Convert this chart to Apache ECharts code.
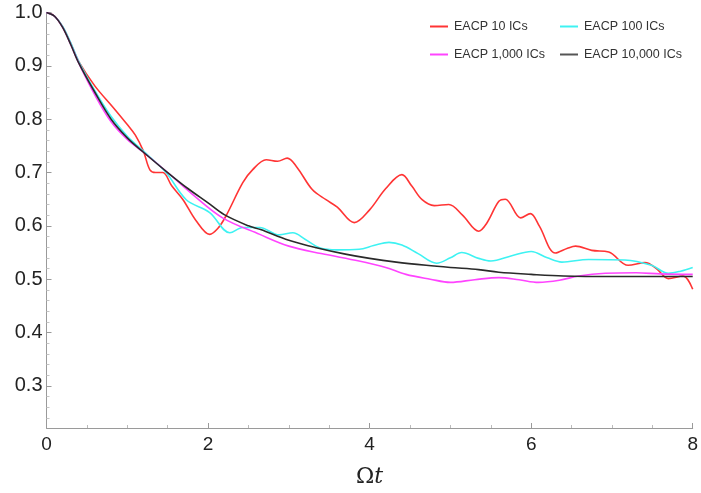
<!DOCTYPE html>
<html>
<head>
<meta charset="utf-8">
<script src="https://cdn.jsdelivr.net/npm/echarts@6/dist/echarts.min.js"></script>
<style>html,body{margin:0;padding:0;background:#fff}#c{width:701px;height:493px}</style>
</head>
<body>
<div id="c"></div>
<script>
// ---- data ----
var seriesNames = ['EACP 10 ICs', 'EACP 100 ICs', 'EACP 1,000 ICs', 'EACP 10,000 ICs'];
var xTickLabels = [0, 2, 4, 6, 8];
var yTickLabels = [0.3, 0.4, 0.5, 0.6, 0.7, 0.8, 0.9, 1.0];

var redX = [0, 0.1, 0.2, 0.3, 0.4, 0.6, 0.82, 1.0, 1.1, 1.2, 1.28, 1.35, 1.44, 1.55, 1.69, 1.85, 2.02, 2.12, 2.22, 2.43, 2.55, 2.72, 2.86, 2.98, 3.1, 3.29, 3.46, 3.6, 3.81, 4.0, 4.2, 4.4, 4.52, 4.65, 4.8, 4.98, 5.15, 5.35, 5.45, 5.6, 5.68, 5.87, 5.99, 6.1, 6.3, 6.45, 6.55, 6.75, 6.96, 7.2, 7.41, 7.55, 7.7, 7.88, 8.0];
var redY = [1.0, 0.993, 0.973, 0.942, 0.908, 0.862, 0.823, 0.79, 0.77, 0.74, 0.705, 0.700, 0.700, 0.675, 0.649, 0.61, 0.584, 0.595, 0.618, 0.681, 0.705, 0.724, 0.721, 0.727, 0.71, 0.668, 0.649, 0.635, 0.606, 0.63, 0.67, 0.696, 0.675, 0.649, 0.638, 0.640, 0.62, 0.590, 0.605, 0.646, 0.650, 0.615, 0.623, 0.60, 0.549, 0.558, 0.562, 0.554, 0.551, 0.526, 0.531, 0.52, 0.501, 0.506, 0.481];

var cyanX = [0, 0.1, 0.2, 0.3, 0.4, 0.6, 0.8, 1.0, 1.2, 1.48, 1.73, 2.02, 2.27, 2.43, 2.64, 2.88, 3.05, 3.2, 3.38, 3.6, 3.87, 4.05, 4.24, 4.4, 4.6, 4.83, 5.0, 5.14, 5.35, 5.5, 5.76, 6.0, 6.2, 6.38, 6.71, 7.16, 7.49, 7.7, 7.85, 8.0];
var cyanY = [1.0, 0.993, 0.974, 0.943, 0.908, 0.853, 0.805, 0.768, 0.74, 0.70, 0.649, 0.625, 0.587, 0.597, 0.597, 0.583, 0.587, 0.575, 0.559, 0.555, 0.556, 0.563, 0.569, 0.564, 0.548, 0.530, 0.540, 0.550, 0.539, 0.534, 0.544, 0.552, 0.540, 0.532, 0.537, 0.536, 0.526, 0.511, 0.515, 0.522];

var magentaX = [0, 0.1, 0.2, 0.3, 0.4, 0.6, 0.8, 1.0, 1.2, 1.5, 1.8, 2.18, 2.64, 3.0, 3.4, 3.87, 4.2, 4.45, 4.75, 5.0, 5.3, 5.6, 5.85, 6.09, 6.35, 6.59, 6.92, 7.3, 7.6, 8.0];
var magentaY = [1.0, 0.993, 0.972, 0.94, 0.905, 0.845, 0.795, 0.762, 0.738, 0.70, 0.66, 0.615, 0.584, 0.562, 0.548, 0.534, 0.522, 0.509, 0.50, 0.494, 0.499, 0.503, 0.499, 0.494, 0.498, 0.506, 0.511, 0.512, 0.510, 0.509];

var blackX = [0, 0.1, 0.2, 0.3, 0.4, 0.6, 0.8, 1.0, 1.2, 1.5, 1.75, 2.0, 2.2, 2.5, 2.65, 3.0, 3.34, 3.7, 4.0, 4.33, 4.7, 5.0, 5.35, 5.6, 6.0, 6.4, 7.0, 7.5, 8.0];
var blackY = [1.0, 0.993, 0.972, 0.94, 0.905, 0.85, 0.80, 0.765, 0.738, 0.70, 0.67, 0.643, 0.621, 0.60, 0.593, 0.573, 0.559, 0.547, 0.539, 0.532, 0.526, 0.522, 0.518, 0.513, 0.509, 0.506, 0.505, 0.505, 0.505];

var colors = ['#ff3434', '#3ef2f2', '#ff44ff', '#2a2a2a'];
var legendLineColors = ['#ff3434', '#3ef2f2', '#ff44ff', '#555555'];

function pairs(xs, ys) { return xs.map(function (x, i) { return [x, ys[i]]; }); }

var yMin = 0.221, yMax = 1.0;
var yMinor = [];
for (var v = 24; v <= 98; v += 2) { if (v % 10 !== 0) yMinor.push(v / 100); }
var xMinor = [0.5, 1, 1.5, 2.5, 3, 3.5, 4.5, 5, 5.5, 6.5, 7, 7.5];

var chart = echarts.init(document.getElementById('c'), null, { renderer: 'canvas' });
var grid = { left: 46.5, right: 6.5, top: 12.5, bottom: 64 };
var axisCol = '#9a9a9a';
var option = {
  animation: false,
  backgroundColor: '#fff',
  grid: grid,
  xAxis: [{
    type: 'value', min: 0, max: 8,
    axisLine: { show: true, onZero: false, lineStyle: { color: axisCol, width: 1 } },
    axisTick: { show: true, inside: true, length: 5, customValues: xTickLabels, lineStyle: { color: axisCol } },
    axisLabel: { customValues: xTickLabels, fontFamily: 'Liberation Sans', fontSize: 19, color: '#222', margin: 7 },
    splitLine: { show: false },
    name: '{o|Ω}{t|t}', nameLocation: 'middle', nameGap: 38,
    nameTextStyle: { rich: { o: { fontFamily: 'DejaVu Serif', fontSize: 22, color: '#222' }, t: { fontFamily: 'DejaVu Serif', fontStyle: 'italic', fontSize: 22, color: '#222' } } }
  }, {
    type: 'value', min: 0, max: 8, position: 'bottom',
    axisLine: { show: false },
    axisTick: { show: true, inside: true, length: 3, customValues: xMinor, lineStyle: { color: '#bbbbbb' } },
    axisLabel: { show: false }, splitLine: { show: false }
  }],
  yAxis: [{
    type: 'value', min: yMin, max: yMax,
    axisLine: { show: true, onZero: false, lineStyle: { color: axisCol, width: 1 } },
    axisTick: { show: true, inside: true, length: 5, customValues: yTickLabels, lineStyle: { color: axisCol } },
    axisLabel: { customValues: yTickLabels, fontFamily: 'Liberation Sans', fontSize: 20, color: '#222', margin: 4,
      formatter: function (v) { return v.toFixed(1); } },
    splitLine: { show: false }
  }, {
    type: 'value', min: yMin, max: yMax, position: 'left',
    axisLine: { show: false },
    axisTick: { show: true, inside: true, length: 3, customValues: yMinor, lineStyle: { color: '#c4c4c4' } },
    axisLabel: { show: false }, splitLine: { show: false }
  }],
  legend: [0, 1, 2, 3].map(function (i) {
    return {
      data: [{ name: seriesNames[i], icon: 'rect', itemStyle: { color: legendLineColors[i], opacity: 1, borderWidth: 0 } }],
      left: [430, 560, 430, 560][i], top: [20, 20, 48, 48][i],
      itemWidth: 18, itemHeight: 2, itemGap: 0, padding: 0,
      textStyle: { fontFamily: 'Liberation Sans', fontSize: 12.5, color: '#333', padding: [0, 0, 0, 1] }
    };
  }),
  series: [
    { name: seriesNames[0], data: pairs(redX, redY) },
    { name: seriesNames[1], data: pairs(cyanX, cyanY) },
    { name: seriesNames[2], data: pairs(magentaX, magentaY) },
    { name: seriesNames[3], data: pairs(blackX, blackY) }
  ].map(function (s, i) {
    return {
      name: s.name, type: 'line', data: s.data, smooth: 0.35, showSymbol: false, symbol: 'none',
      z: [2, 3, 4, 5][i],
      lineStyle: { color: colors[i], width: 1.6 }, itemStyle: { color: colors[i] }
    };
  })
};
chart.setOption(option);
</script>
</body>
</html>
